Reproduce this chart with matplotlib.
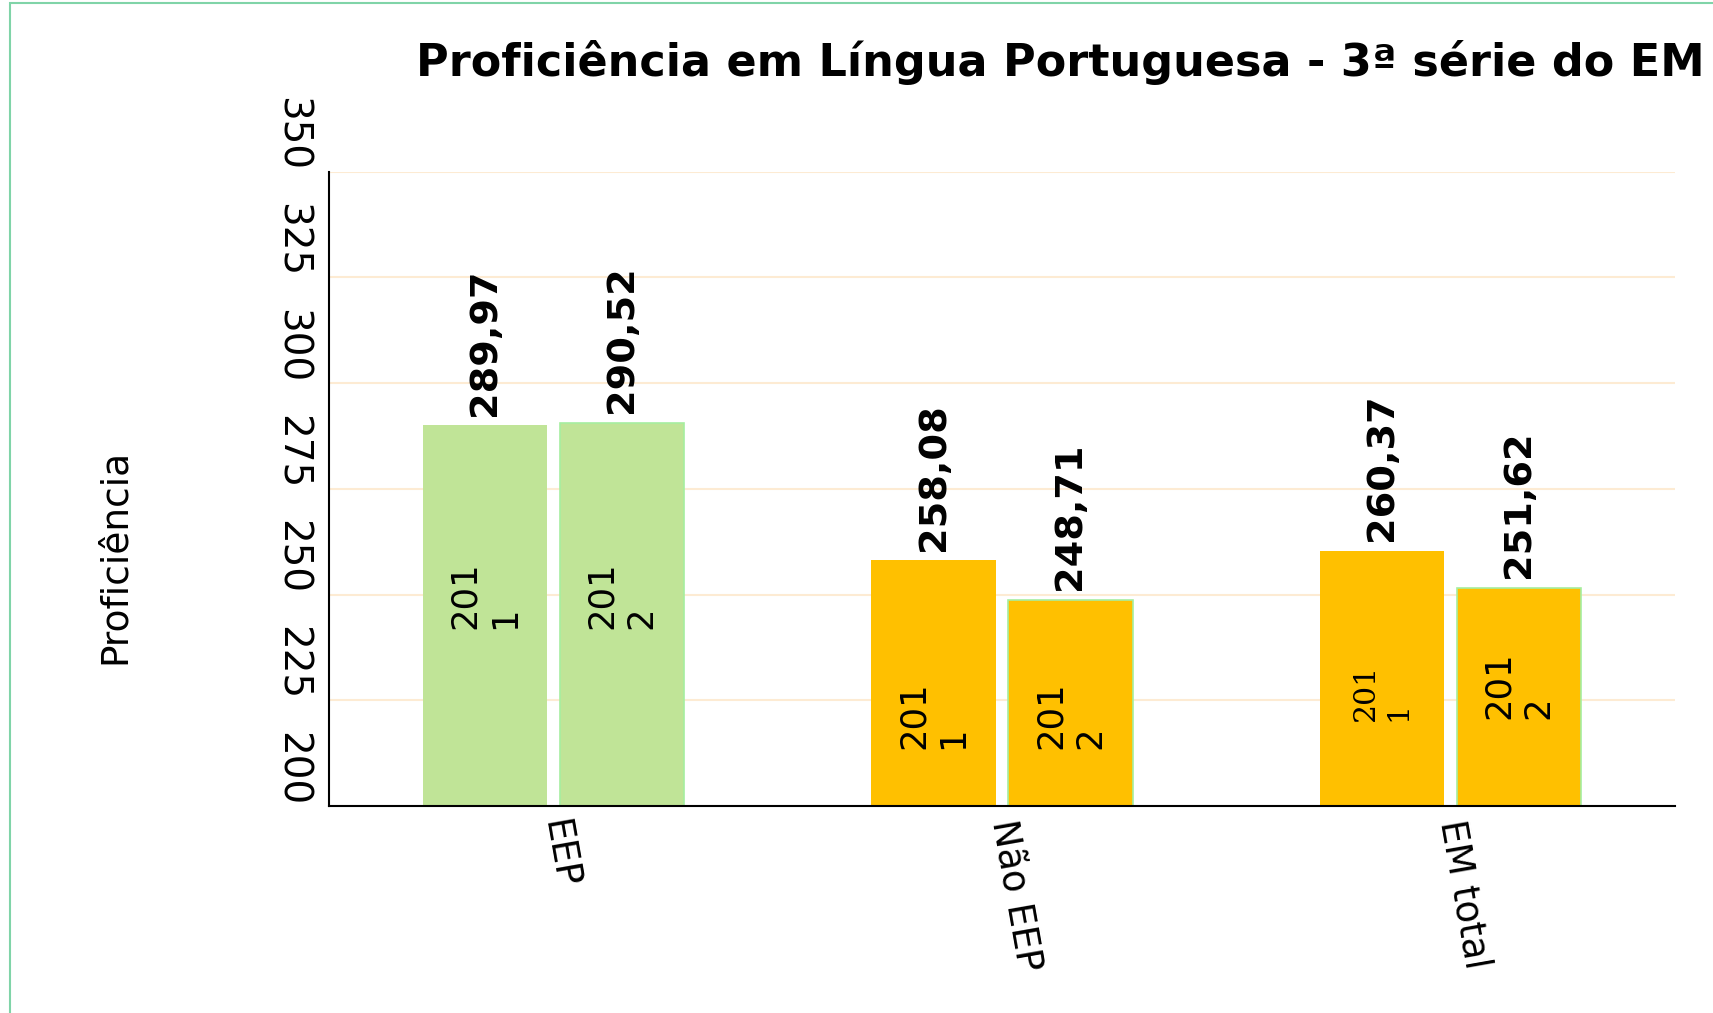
import matplotlib
matplotlib.use("Agg")
import matplotlib.pyplot as plt
import numpy as np
from matplotlib.patches import Rectangle

categories = ["EEP", "Não EEP", "EM total"]
years = ["2011", "2012"]
values_2011 = [289.97, 258.08, 260.37]
values_2012 = [290.52, 248.71, 251.62]
bar_colors = ["#c0e497", "#ffc000", "#ffc000"]
# height (in score units) of the "201\n1" labels inside the bars
inner_y_2011 = [249.8, 221.4, 226.8]
inner_y_2012 = [249.8, 221.4, 228.6]
yticks = [200, 225, 250, 275, 300, 325, 350]


def fmt(v):
    return f"{v:.2f}".replace(".", ",")


fig = plt.figure(figsize=(17.13, 10.13), dpi=100)
ax = fig.add_axes([0.1921, 0.2043, 0.7857, 0.6264])

x = np.arange(len(categories))
width = 0.277
offset = 0.1525

bars11 = ax.bar(x - offset, values_2011, width, color=bar_colors,
                edgecolor="none", zorder=2)
bars12 = ax.bar(x + offset, values_2012, width, color=bar_colors,
                edgecolor="#a6eea0", linewidth=1.2, zorder=2)

for bars, vals, inner, yr in [(bars11, values_2011, inner_y_2011, years[0]),
                              (bars12, values_2012, inner_y_2012, years[1])]:
    for i, (b, v) in enumerate(zip(bars, vals)):
        cx = b.get_x() + b.get_width() / 2
        ax.annotate(fmt(v), (cx, v), xytext=(0, 7), textcoords="offset points",
                    rotation=90, ha="center", va="bottom", fontsize=27.5,
                    fontweight="bold", zorder=3)
        # the EM total 2011 label is drawn in a smaller serif face
        if i == 2 and yr == "2011":
            fam, fs = "DejaVu Serif", 21.5
        else:
            fam, fs = "DejaVu Sans", 25.5
        ax.text(cx, inner[i], yr[:3] + "\n" + yr[3:], rotation=90,
                ha="center", va="center", fontsize=fs, family=fam,
                multialignment="left", linespacing=1.2, zorder=3)

ax.set_xlim(-0.5, 2.5)
ax.set_ylim(200, 350)
ax.set_yticks(yticks)
ax.set_yticklabels([str(t) for t in yticks], rotation=-90, va="bottom",
                   fontsize=28)
ax.set_xticks(x)
ax.set_xticklabels(categories, rotation=-80, ha="left", va="center",
                   rotation_mode="anchor", fontsize=26.5)
ax.tick_params(axis="both", length=0)
ax.tick_params(axis="y", pad=13)
ax.tick_params(axis="x", pad=10)

ax.yaxis.grid(True, color="#fdebd3", linewidth=1.5, zorder=0)
ax.set_axisbelow(True)
for s in ["top", "right"]:
    ax.spines[s].set_visible(False)
for s in ["left", "bottom"]:
    ax.spines[s].set_linewidth(1.5)
    ax.spines[s].set_color("black")

ax.set_ylabel("Proficiência", fontsize=27)
ax.yaxis.set_label_coords(-0.146, 0.394)

fig.text(416 / 1713, 1 - 76 / 1013,
         "Proficiência em Língua Portuguesa - 3ª série do EM",
         ha="left", va="baseline", fontsize=32, fontweight="bold")

# thin frame around the chart area (only top and left edges are visible)
fig.patches.append(Rectangle((10 / 1713, -0.1), 1.2, 1.1 - 3 / 1013,
                             transform=fig.transFigure, fill=False,
                             edgecolor="#80d4a8", linewidth=1.5))

fig.savefig("out.png", dpi=100)
